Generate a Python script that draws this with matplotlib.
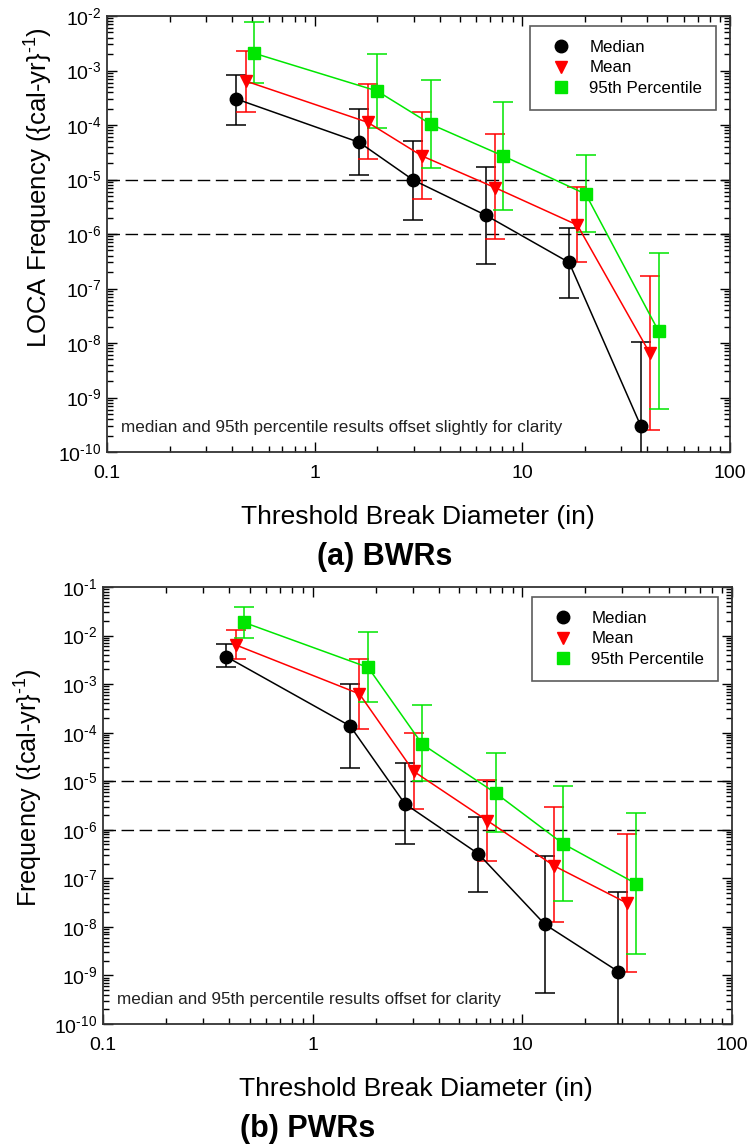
import matplotlib
matplotlib.use("Agg")
import matplotlib.pyplot as plt
import numpy as np
from matplotlib.lines import Line2D
from matplotlib.ticker import LogLocator, FixedLocator, FixedFormatter, NullFormatter

plt.rcParams['font.family'] = ['Liberation Sans', 'DejaVu Sans']
plt.rcParams['mathtext.fontset'] = 'custom'
plt.rcParams['mathtext.rm'] = 'Liberation Sans'
plt.rcParams['mathtext.it'] = 'Liberation Sans'

# ---------------- (a) BWRs ----------------
bwr_med_x = [0.42, 1.64, 2.98, 6.68, 16.8, 37.2]
bwr_med_y = [3.0e-4, 4.8e-5, 9.8e-6, 2.2e-6, 3.0e-7, 3.0e-10]
bwr_med_hi = [8.3e-4, 2.0e-4, 5.1e-5, 1.7e-5, 1.3e-6, 1.04e-8]
bwr_med_lo = [1.0e-4, 1.2e-5, 1.8e-6, 2.8e-7, 6.6e-8, 1.0e-12]

bwr_mean_x = [0.466, 1.80, 3.29, 7.38, 18.4, 41.1]
bwr_mean_y = [6.4e-4, 1.12e-4, 2.7e-5, 7.1e-6, 1.46e-6, 6.5e-9]
bwr_mean_hi = [2.3e-3, 5.6e-4, 1.75e-4, 6.8e-5, 7.4e-6, 1.67e-7]
bwr_mean_lo = [1.75e-4, 2.4e-5, 4.4e-6, 8.0e-7, 3.1e-7, 2.5e-10]

bwr_p95_x = [0.512, 2.0, 3.63, 8.09, 20.2, 45.3]
bwr_p95_y = [2.07e-3, 4.2e-4, 1.03e-4, 2.7e-5, 5.4e-6, 1.65e-8]
bwr_p95_hi = [7.7e-3, 2.0e-3, 6.6e-4, 2.6e-4, 2.8e-5, 4.5e-7]
bwr_p95_lo = [5.8e-4, 8.7e-5, 1.6e-5, 2.7e-6, 1.1e-6, 6.2e-10]

# ---------------- (b) PWRs ----------------
pwr_med_x = [0.386, 1.51, 2.75, 6.17, 12.8, 28.7]
pwr_med_y = [3.7e-3, 1.37e-4, 3.45e-6, 3.2e-7, 1.13e-8, 1.2e-9]
pwr_med_hi = [6.7e-3, 1.02e-3, 2.4e-5, 1.86e-6, 2.9e-7, 5.2e-8]
pwr_med_lo = [2.2e-3, 1.9e-5, 5.0e-7, 5.3e-8, 4.4e-10, 1.0e-12]

pwr_mean_x = [0.43, 1.67, 3.03, 6.8, 14.2, 31.7]
pwr_mean_y = [6.4e-3, 6.3e-4, 1.6e-5, 1.55e-6, 1.8e-7, 3.06e-8]
pwr_mean_hi = [1.3e-2, 3.3e-3, 9.8e-5, 1.06e-5, 2.9e-6, 8.2e-7]
pwr_mean_lo = [3.3e-3, 1.2e-4, 2.7e-6, 2.3e-7, 1.24e-8, 1.18e-9]

pwr_p95_x = [0.47, 1.84, 3.33, 7.5, 15.6, 34.8]
pwr_p95_y = [1.87e-2, 2.2e-3, 5.8e-5, 5.6e-6, 5.2e-7, 7.8e-8]
pwr_p95_hi = [3.9e-2, 1.18e-2, 3.7e-4, 3.8e-5, 7.9e-6, 2.25e-6]
pwr_p95_lo = [9.1e-3, 4.2e-4, 1.0e-5, 9.0e-7, 3.4e-8, 2.7e-9]

series_labels = ["Median", "Mean", "95th Percentile"]
series_colors = ["black", "#ff0000", "#00e600"]
series_markers = ["o", "v", "s"]
series_msize = [9, 9, 8]

x_ticks = [0.1, 1, 10, 100]
x_ticklabels = ["0.1", "1", "10", "100"]
ref_lines = [1e-5, 1e-6]

W, H = 748, 1146
fig = plt.figure(figsize=(W / 100, H / 100), dpi=100)


def add_axes_px(l, t, r, b):
    return fig.add_axes([l / W, 1 - b / H, (r - l) / W, (b - t) / H])


def ftext(xp, yp, s, **kw):
    return fig.text(xp / W, 1 - yp / H, s, **kw)


def draw_panel(ax, data, ymin_exp, ymax_exp, note, box_px):
    handles = []
    for (x, y, hi, lo), lab, c, m, ms in zip(data, series_labels, series_colors,
                                               series_markers, series_msize):
        x = np.array(x); y = np.array(y)
        yerr = np.array([y - np.array(lo), np.array(hi) - y])
        ax.errorbar(x, y, yerr=yerr, color=c, marker=m, markersize=ms, lw=1.1,
                    elinewidth=1.1, capsize=7, capthick=1.1, zorder=3)
        handles.append(Line2D([], [], color=c, marker=m, markersize=ms,
                              linestyle="none", label=lab))
    for v in ref_lines:
        ax.axhline(v, color="black", lw=1.0, dashes=(9, 4), zorder=1)
    ax.set_xscale("log")
    ax.set_yscale("log")
    ax.set_xlim(0.1, 100)
    ax.set_ylim(10.0 ** ymin_exp, 10.0 ** ymax_exp)
    ax.xaxis.set_major_locator(FixedLocator(x_ticks))
    ax.xaxis.set_major_formatter(FixedFormatter(x_ticklabels))
    ax.xaxis.set_minor_locator(LogLocator(base=10, subs=np.arange(2, 10), numticks=20))
    ax.xaxis.set_minor_formatter(NullFormatter())
    exps = list(range(ymin_exp, ymax_exp + 1))
    ax.yaxis.set_major_locator(FixedLocator([10.0 ** e for e in exps]))
    ax.yaxis.set_major_formatter(FixedFormatter(
        [r"$\mathregular{10^{\text{-%d}}}$" % (-e) for e in exps]))
    ax.yaxis.set_minor_locator(LogLocator(base=10, subs=np.arange(2, 10), numticks=30))
    ax.yaxis.set_minor_formatter(NullFormatter())
    ax.tick_params(which="both", direction="in", top=True, right=True, width=1.0)
    ax.tick_params(which="major", length=7, labelsize=14)
    ax.tick_params(axis="x", which="major", pad=9)
    ax.tick_params(axis="y", which="major", pad=4)
    ax.tick_params(which="minor", length=4)
    for s in ax.spines.values():
        s.set_linewidth(1.3)
        s.set_color("#333333")
    ax.text(0.023, 0.04, note, transform=ax.transAxes, fontsize=12.3, color="#222222",
            ha="left", va="bottom")
    # legend anchored at given pixel offsets from the top-right corner
    l, t, r, b = box_px
    ax_w, ax_h = r - l, b - t
    leg = ax.legend(handles=handles, loc="upper right",
                    bbox_to_anchor=(1 - 14 / ax_w, 1 - 10 / ax_h),
                    fontsize=12.2, frameon=True, fancybox=False, edgecolor="#333333",
                    handlelength=2.0, handletextpad=0.7, borderpad=0.8,
                    labelspacing=0.35, borderaxespad=0.0)
    leg.get_frame().set_linewidth(1.2)
    return leg


box1 = (107, 16, 730, 452)
ax1 = add_axes_px(*box1)
data1 = [(bwr_med_x, bwr_med_y, bwr_med_hi, bwr_med_lo),
         (bwr_mean_x, bwr_mean_y, bwr_mean_hi, bwr_mean_lo),
         (bwr_p95_x, bwr_p95_y, bwr_p95_hi, bwr_p95_lo)]
draw_panel(ax1, data1, -10, -2,
           "median and 95th percentile results offset slightly for clarity", box1)
ftext(48, 188, r"LOCA Frequency ({cal-yr}$^{\mathregular{\text{-1}}}$)", fontsize=18.5,
      rotation=90, rotation_mode="anchor", ha="center", va="baseline")
ftext(418, 524, "Threshold Break Diameter (in)", fontsize=19, ha="center", va="baseline")
ftext(385, 565, "(a) BWRs", fontsize=22, fontweight="bold", ha="center", va="baseline")

box2 = (103, 587, 732, 1024)
ax2 = add_axes_px(*box2)
data2 = [(pwr_med_x, pwr_med_y, pwr_med_hi, pwr_med_lo),
         (pwr_mean_x, pwr_mean_y, pwr_mean_hi, pwr_mean_lo),
         (pwr_p95_x, pwr_p95_y, pwr_p95_hi, pwr_p95_lo)]
draw_panel(ax2, data2, -10, -1,
           "median and 95th percentile results offset for clarity", box2)
ftext(38, 788, r"Frequency ({cal-yr}$^{\mathregular{\text{-1}}}$)", fontsize=18.2,
      rotation=90, rotation_mode="anchor", ha="center", va="baseline")
ftext(416, 1096, "Threshold Break Diameter (in)", fontsize=19, ha="center", va="baseline")
ftext(308, 1137, "(b) PWRs", fontsize=22, fontweight="bold", ha="center", va="baseline")

fig.savefig("out.png", dpi=100)
